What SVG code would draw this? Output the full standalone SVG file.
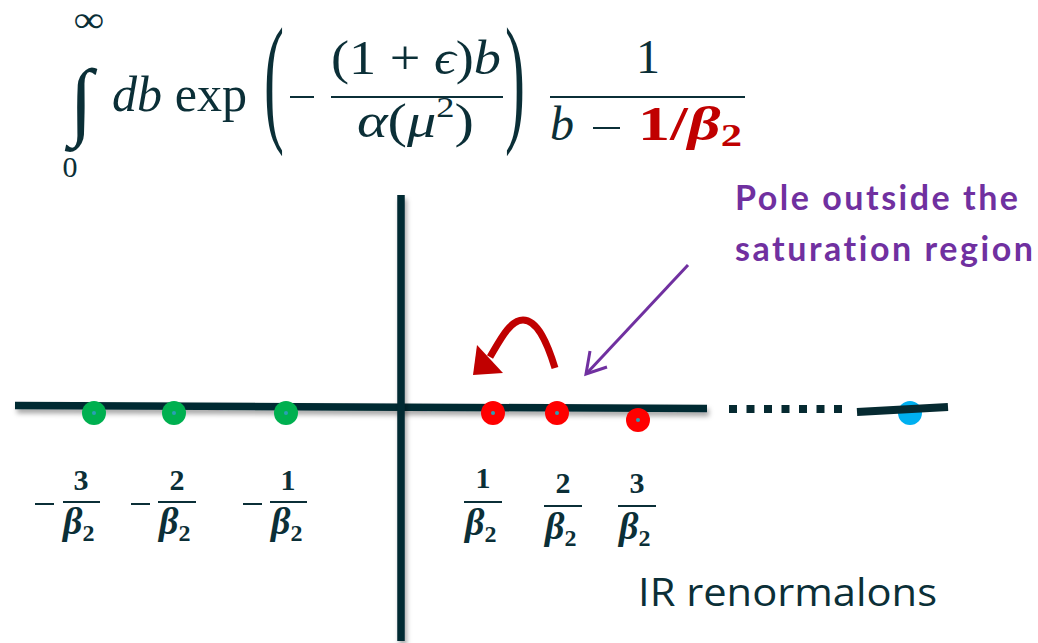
<svg xmlns="http://www.w3.org/2000/svg" width="1038" height="643" viewBox="0 0 1038 643">
<defs>
<style>
.m{font-family:"Liberation Serif","DejaVu Serif",serif;fill:#0b2f37}
.i{font-style:italic}
.lb{font-family:"Liberation Serif","DejaVu Serif",serif;font-weight:bold;fill:#0b2f37}
.ax{stroke:#062a31;stroke-width:7.5;fill:none}
.bar{stroke:#0b2f37;stroke-width:2}
.g{fill:#00b050}
.r{fill:#ff0000}
.c{fill:#2a9fb5}
.note{font-family:Lato,"Open Sans",sans-serif;font-weight:bold;font-size:34px;fill:#7030a0;font-variant-ligatures:none}
</style>
<filter id="sh" filterUnits="userSpaceOnUse" x="0" y="0" width="1038" height="643">
<feDropShadow dx="2" dy="4" stdDeviation="2.5" flood-color="#000" flood-opacity="0.35"/>
</filter>
</defs>
<rect width="1038" height="643" fill="#fff"/>

<g id="formula">
<text class="m" transform="translate(89,32) scale(1.35,1.15)" font-size="32" text-anchor="middle">∞</text>
<text class="m" x="81" y="129" font-size="86" text-anchor="middle">∫</text>
<text class="m" x="70" y="177" font-size="30" text-anchor="middle">0</text>
<text class="m" x="112" y="111" font-size="50" textLength="135" lengthAdjust="spacingAndGlyphs"><tspan class="i">db</tspan> exp</text>
<text class="m" transform="translate(264,126) scale(1,2.375)" font-size="60">(</text>
<line class="bar" x1="290" y1="97" x2="314" y2="97" stroke-width="2.5"/>
<text class="m" x="331" y="74" font-size="48" textLength="170" lengthAdjust="spacingAndGlyphs">(1 + <tspan class="i">ϵ</tspan>)<tspan class="i">b</tspan></text>
<line class="bar" x1="331" y1="97" x2="503" y2="97"/>
<text class="m" x="357" y="137" font-size="48" textLength="117" lengthAdjust="spacingAndGlyphs"><tspan class="i">α</tspan>(<tspan class="i">μ</tspan><tspan font-size="30" dy="-20">2</tspan><tspan dy="20">)</tspan></text>
<text class="m" transform="translate(505,126) scale(1,2.375)" font-size="60">)</text>
<text class="m" x="648" y="73" font-size="48" text-anchor="middle">1</text>
<line class="bar" x1="550" y1="97" x2="745" y2="97"/>
<text class="m i" x="550" y="140" font-size="48">b</text>
<line class="bar" x1="593" y1="128" x2="620" y2="128" stroke-width="2.5"/>
<text class="m" x="638" y="140" font-size="48" font-weight="bold" style="fill:#c00000" textLength="104" lengthAdjust="spacingAndGlyphs">1/<tspan class="i">β</tspan><tspan font-size="32" dy="6">2</tspan></text>
</g>

<g id="axes">
<line class="ax" x1="15" y1="405.5" x2="707" y2="408.5" filter="url(#sh)"/>
<line class="ax" x1="401" y1="195" x2="401" y2="641" filter="url(#sh)"/>
<line x1="729" y1="409" x2="842" y2="409" stroke="#062a31" stroke-width="8" stroke-dasharray="8 9.5"/>
</g>

<g id="poles-neg">
<circle class="g" cx="94" cy="413" r="12"/><circle class="c" cx="94" cy="413" r="2"/>
<circle class="g" cx="174" cy="413" r="12"/><circle class="c" cx="174" cy="413" r="2"/>
<circle class="g" cx="286" cy="413" r="12"/><circle class="c" cx="286" cy="413" r="2"/>
</g>
<g id="poles-pos">
<circle class="r" cx="493" cy="413" r="12"/><circle class="c" cx="493" cy="413" r="2"/>
<circle class="r" cx="557" cy="413" r="12"/><circle class="c" cx="557" cy="413" r="2"/>
<circle class="r" cx="638" cy="420" r="12"/><circle class="c" cx="638" cy="420" r="2"/>
</g>
<g id="far-pole">
<circle cx="910" cy="413" r="12" fill="#00b0f0"/>
<line x1="857" y1="412" x2="948" y2="407" stroke="#062a31" stroke-width="8"/>
</g>

<g id="labels">
<line class="bar" x1="35" y1="504" x2="54" y2="504" stroke-width="2.5"/>
<text class="lb" x="81" y="490" font-size="30" text-anchor="middle">3</text>
<line class="bar" x1="63" y1="502" x2="100" y2="502"/>
<text class="lb" x="63" y="534" font-size="38"><tspan class="i">β</tspan><tspan font-size="24" dy="7">2</tspan></text>

<line class="bar" x1="131" y1="504" x2="150" y2="504" stroke-width="2.5"/>
<text class="lb" x="177" y="490" font-size="30" text-anchor="middle">2</text>
<line class="bar" x1="158" y1="502" x2="196" y2="502"/>
<text class="lb" x="159" y="534" font-size="38"><tspan class="i">β</tspan><tspan font-size="24" dy="7">2</tspan></text>

<line class="bar" x1="243" y1="504" x2="262" y2="504" stroke-width="2.5"/>
<text class="lb" x="288" y="490" font-size="30" text-anchor="middle">1</text>
<line class="bar" x1="270" y1="502" x2="307" y2="502"/>
<text class="lb" x="271" y="534" font-size="38"><tspan class="i">β</tspan><tspan font-size="24" dy="7">2</tspan></text>

<text class="lb" x="483" y="488" font-size="30" text-anchor="middle">1</text>
<line class="bar" x1="464" y1="502" x2="502" y2="502"/>
<text class="lb" x="465" y="535" font-size="38"><tspan class="i">β</tspan><tspan font-size="24" dy="7">2</tspan></text>

<text class="lb" x="563" y="493" font-size="30" text-anchor="middle">2</text>
<line class="bar" x1="544" y1="506" x2="582" y2="506"/>
<text class="lb" x="545" y="539" font-size="38"><tspan class="i">β</tspan><tspan font-size="24" dy="7">2</tspan></text>

<text class="lb" x="637" y="493" font-size="30" text-anchor="middle">3</text>
<line class="bar" x1="618" y1="506" x2="656" y2="506"/>
<text class="lb" x="619" y="539" font-size="38"><tspan class="i">β</tspan><tspan font-size="24" dy="7">2</tspan></text>

<text x="638" y="606" font-family="'Open Sans','Liberation Sans',sans-serif" font-size="38" fill="#0b2f37" textLength="299" lengthAdjust="spacingAndGlyphs">IR renormalons</text>
</g>

<g id="note">
<text class="note" x="735" y="210" textLength="283" lengthAdjust="spacing">Pole outside the</text>
<text class="note" x="735" y="261" textLength="298" lengthAdjust="spacing">saturation region</text>
</g>

<g id="connectors">
<path d="M555,368 C548,345 538,320 523,320 C510,320 500,340 490,357" fill="none" stroke="#c00000" stroke-width="7"/>
<polygon points="473,375 503,373 477,345" fill="#c00000"/>
<line x1="688" y1="265" x2="588" y2="372" stroke="#7030a0" stroke-width="3"/>
<polyline points="590,351 586,374 607,367" fill="none" stroke="#7030a0" stroke-width="3" stroke-linejoin="miter"/>
</g>
</svg>
